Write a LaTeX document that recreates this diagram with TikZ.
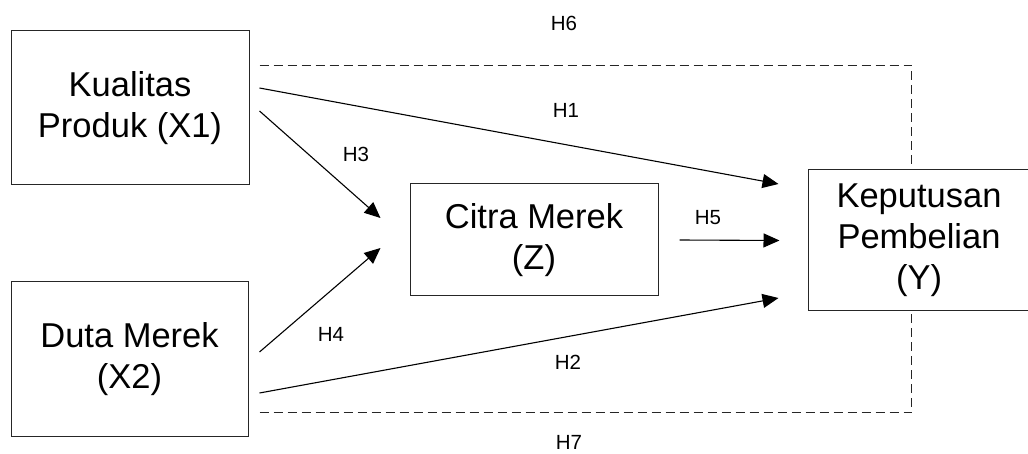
\documentclass[tikz,border=0pt]{standalone}
\usepackage{fontspec}
\setmainfont{Liberation Sans}
\usepackage{tikz}
\usetikzlibrary{arrows.meta}
\usetikzlibrary{positioning}
\tikzset{var/.style={rectangle,draw=black!85,line width=1pt,inner sep=0pt,
align=center, font=\fontsize{34.5}{41}\selectfont},
hyp/.style={rectangle, inner sep=0pt, font=\fontsize{20.5}{20.5}\selectfont},
link/.style={->, color=black, line width=1.1pt},
dashlink/.style={color=black!85, line width=1.1pt, dash pattern=on 9pt off 5pt},
>={Triangle[length=16pt,width=14pt]}}

\begin{document}
\begin{tikzpicture}[x=1pt,y=-1pt]
  \useasboundingbox (0,0) rectangle (1028,454);
  \clip (0,0) rectangle (1028,454);

  \node (x1) [var,minimum width=238pt,minimum height=154pt] at (130,108) {Kualitas\\Produk (X1)};
  \node (x2) [var,minimum width=237pt,minimum height=154pt] at (129.5,359) {Duta Merek\\(X2)};
  \node (z) [var,minimum width=248pt,minimum height=112pt] at (534,240) {Citra Merek\\(Z)};
  \node (y) [var,minimum width=222pt,minimum height=141pt] at (919,240.5) {Keputusan\\Pembelian\\(Y)};

  \draw [link] ([shift={(10,-20)}]x1.east) -- ([shift={(-29,-56.5)}]y.west);
  \draw [link] ([shift={(10,3)}]x1.east) -- ([shift={(-29,-22)}]z.west);
  \draw [link] ([shift={(11,-7)}]x2.east) -- ([shift={(-29,8)}]z.west);
  \draw [link] ([shift={(11,34)}]x2.east) -- ([shift={(-29,57.5)}]y.west);
  \draw [link] ([shift={(21,0)}]z.east) -- ([shift={(-28,0)}]y.west);

  \draw [dashlink] ([shift={(10,35)}]x1.north east) -| ([xshift=-7.5pt]y.north);
  \draw [dashlink] ([shift={(11,-24)}]x2.south east) -| ([xshift=-7.5pt]y.south);

  \node (h6) [hyp] at (564,23) {H6};
  \node (h1) [hyp] at (566,110) {H1};
  \node (h3) [hyp] at (356,154) {H3};
  \node (h5) [hyp] at (708,218) {H5};
  \node (h4) [hyp] at (331,334) {H4};
  \node (h2) [hyp] at (568,362) {H2};
  \node (h7) [hyp] at (569,442) {H7};
\end{tikzpicture}
\end{document}
